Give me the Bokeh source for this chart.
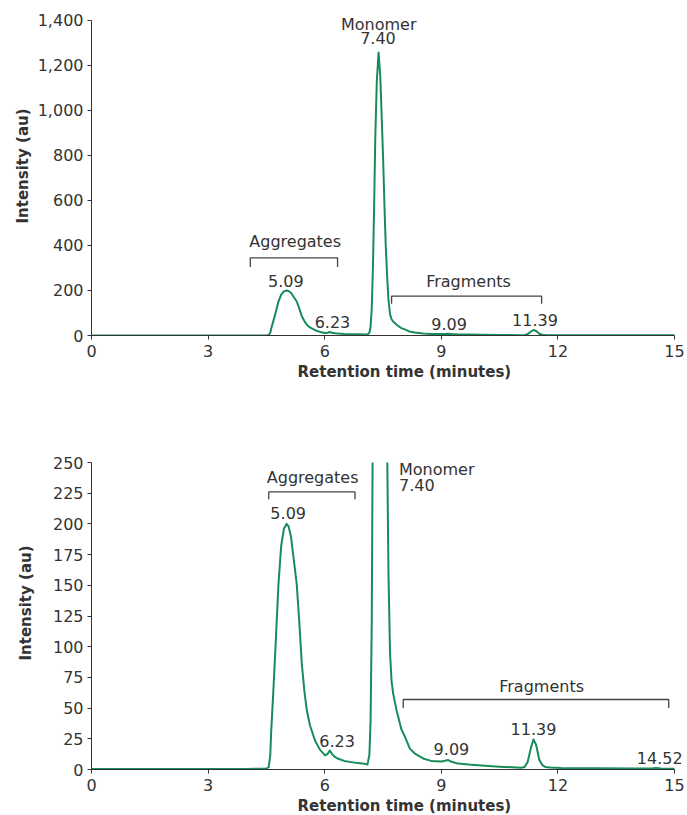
from bokeh.plotting import figure
from bokeh.layouts import column
from bokeh.models import Range1d, FixedTicker, NumeralTickFormatter, Label, Title
from bokeh.embed import file_html
from bokeh.resources import INLINE

# ---------------- data ----------------
retention_time = [
    0.0, 4.0, 4.5, 4.56, 4.60, 4.62, 4.68, 4.73, 4.81, 4.88, 4.95, 5.02, 5.07,
    5.13, 5.20, 5.28, 5.35, 5.41, 5.48, 5.54, 5.62, 5.75, 5.88, 6.01, 6.07,
    6.13, 6.19, 6.27, 6.35, 6.50, 6.69, 6.85, 7.03, 7.10, 7.15, 7.18, 7.21,
    7.24, 7.27, 7.30, 7.34, 7.385, 7.43, 7.47, 7.50, 7.54, 7.57, 7.61, 7.64,
    7.68, 7.72, 7.76, 7.85, 7.97, 8.06, 8.19, 8.32, 8.53, 8.74, 9.00, 9.10,
    9.17, 9.25, 9.35, 9.43, 9.70, 10.03, 10.50, 11.05, 11.14, 11.22, 11.30,
    11.37, 11.44, 11.52, 11.60, 11.68, 11.80, 12.08, 13.0, 14.0, 14.40, 14.52,
    14.65, 15.0,
]
intensity = [
    0.5, 0.5, 0.6, 2.0, 12.0, 29.0, 65.0, 97.0, 151.0, 182.0, 196.0, 200.0, 198.0,
    190.0, 172.0, 151.0, 118.0, 86.0, 63.0, 48.0, 36.0, 23.6, 16.0, 11.5, 12.5,
    15.5, 12.5, 10.0, 8.7, 7.0, 6.0, 5.2, 4.6, 4.0, 12.0, 40.0, 120.0,
    300.0, 560.0, 870.0, 1130.0, 1258.0, 1150.0, 950.0, 800.0, 560.0, 400.0, 250.0, 160.0,
    95.0, 72.0, 62.0, 48.0, 33.0, 27.0, 17.0, 13.0, 9.0, 7.0, 6.5, 7.2,
    7.8, 6.5, 5.5, 4.8, 4.0, 3.3, 2.3, 1.5, 2.0, 6.0, 17.0,
    24.5, 20.0, 8.0, 3.5, 2.0, 1.6, 1.3, 1.0, 0.8, 0.9, 1.3,
    0.9, 0.7,
]

x_ticks = [0, 3, 6, 9, 12, 15]
y_ticks_full = [0, 200, 400, 600, 800, 1000, 1200, 1400]
y_ticks_zoom = [0, 25, 50, 75, 100, 125, 150, 175, 200, 225, 250]

x_title = "Retention time (minutes)"
y_title = "Intensity (au)"

# annotations: (text, x, y, align)
labels_full = [
    ("Monomer", 7.39, 1382, "center"),
    ("7.40", 7.37, 1322, "center"),
    ("Aggregates", 5.24, 418, "center"),
    ("5.09", 5.00, 240, "center"),
    ("6.23", 6.20, 58, "center"),
    ("Fragments", 9.70, 240, "center"),
    ("9.09", 9.20, 49, "center"),
    ("11.39", 11.41, 71, "center"),
]
brackets_full = [(4.085, 6.33, 345, 304), (7.72, 11.58, 175, 141)]

labels_zoom = [
    ("Monomer", 7.91, 244, "left"),
    ("7.40", 7.91, 232, "left"),
    ("Aggregates", 5.69, 238, "center"),
    ("5.09", 5.06, 209, "center"),
    ("6.23", 6.32, 23, "center"),
    ("Fragments", 11.58, 67.6, "center"),
    ("9.09", 9.26, 16.7, "center"),
    ("11.39", 11.37, 32.6, "center"),
    ("14.52", 14.62, 9.4, "center"),
]
brackets_zoom = [(4.56, 6.78, 226, 220), (8.02, 14.85, 57, 50)]

FONT = "DejaVu Sans"
TXT = "#333333"
LINE = "#178c5a"


def make_plot(y_end, y_bounds, yticks, fmt, height, top, bottom, xtitle_standoff,
              ytitle_standoff, ytitle_offset, labels, brackets):
    p = figure(width=686, height=height,
               x_range=Range1d(0, 15.3077), y_range=Range1d(0, y_end),
               output_backend="svg", toolbar_location=None,
               min_border_left=89, min_border_right=0,
               min_border_top=top, min_border_bottom=bottom)
    p.outline_line_color = None
    p.grid.visible = False
    p.background_fill_color = "white"
    p.border_fill_color = "white"

    for ax in (p.xaxis[0], p.yaxis[0]):
        ax.axis_line_color = TXT
        ax.major_tick_line_color = TXT
        ax.minor_tick_line_color = None
        ax.major_tick_in = 0
        ax.major_tick_out = 4
        ax.major_label_text_font = FONT
        ax.major_label_text_font_size = "16px"
        ax.major_label_text_color = TXT

    p.xaxis.ticker = FixedTicker(ticks=x_ticks)
    p.xaxis.bounds = (0, 15)
    p.xaxis.major_label_standoff = 5

    p.yaxis.ticker = FixedTicker(ticks=yticks)
    p.yaxis.bounds = y_bounds
    p.yaxis.formatter = NumeralTickFormatter(format=fmt)
    p.yaxis.major_label_standoff = 4

    p.add_layout(Title(text=x_title, align="left", offset=206, standoff=xtitle_standoff,
                       text_font=FONT, text_font_size="15px", text_font_style="bold",
                       text_color=TXT), "below")
    p.add_layout(Title(text=y_title, align="left", offset=ytitle_offset,
                       standoff=ytitle_standoff,
                       text_font=FONT, text_font_size="15px", text_font_style="bold",
                       text_color=TXT), "left")

    p.line(retention_time, intensity, line_color=LINE, line_width=2, line_join="round")

    xs = [[a, a, b, b] for a, b, yt, yb in brackets]
    ys = [[yb, yt, yt, yb] for a, b, yt, yb in brackets]
    p.multi_line(xs, ys, line_color="#444444", line_width=1.3)

    for text, x, y, align in labels:
        p.add_layout(Label(x=x, y=y, text=text, text_align=align, text_baseline="middle",
                           text_font=FONT, text_font_size="16px", text_color=TXT))
    return p


p1 = make_plot(1453.3, (0, 1400), y_ticks_full, "0,0", 400, 8, 65, 3, 6, 112,
               labels_full, brackets_full)
p2 = make_plot(250, (0, 250), y_ticks_zoom, "0", 415, 62, 46, 2, 29, 109,
               labels_zoom, brackets_zoom)

layout = column(p1, p2, spacing=0)
open("out.html", "w").write(file_html(layout, INLINE))
